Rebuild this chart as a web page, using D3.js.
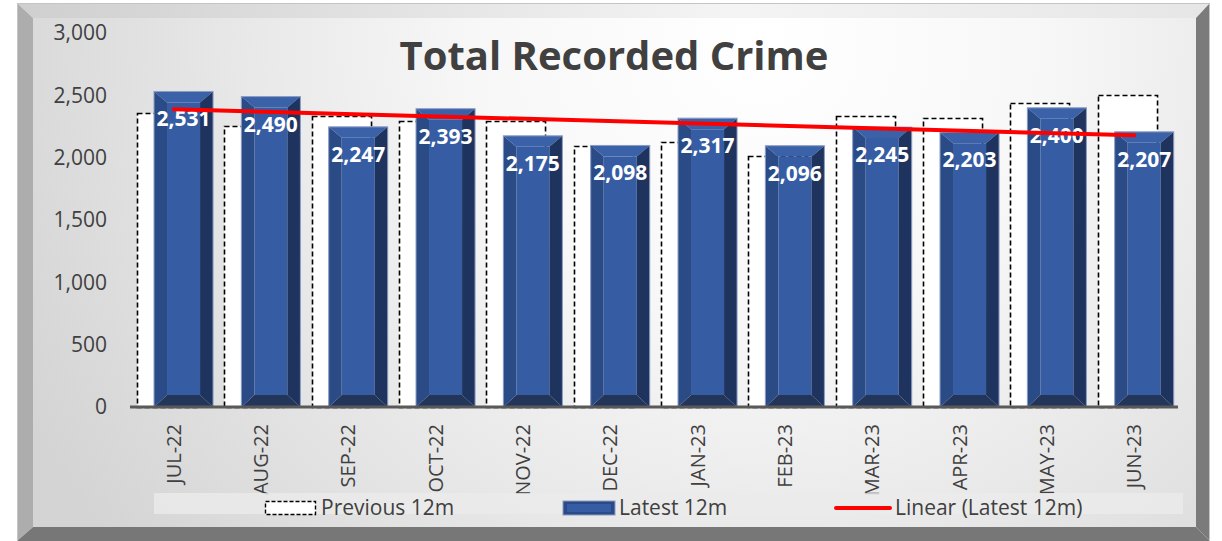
<!DOCTYPE html>
<html>
<head>
<meta charset="utf-8">
<script src="https://cdn.jsdelivr.net/npm/d3@7/dist/d3.min.js"></script>
<style>
  body { margin: 0; background: #ffffff; }
  svg { display: block; }
  text { font-family: "Open Sans", sans-serif; }
</style>
</head>
<body>
<div id="chart"></div>
<script>
// chart data
var months = ["JUL-22", "AUG-22", "SEP-22", "OCT-22", "NOV-22", "DEC-22",
              "JAN-23", "FEB-23", "MAR-23", "APR-23", "MAY-23", "JUN-23"];
var previous12m = [2358, 2258, 2335, 2297, 2292, 2090, 2128, 2010, 2335, 2316, 2441, 2503];
var latest12m = [2531, 2490, 2247, 2393, 2175, 2098, 2317, 2096, 2245, 2203, 2400, 2207];
var yTicks = [0, 500, 1000, 1500, 2000, 2500, 3000];
var legendLabels = ["Previous 12m", "Latest 12m", "Linear (Latest 12m)"];
var chartTitle = "Total Recorded Crime";

// workspace
var svgWidth = 1222;
var svgHeight = 541;

var plot = { left: 130, right: 1178, top: 33, bottom: 407 };

var svg = d3.select("#chart")
  .append("svg")
  .attr("width", svgWidth)
  .attr("height", svgHeight);

var defs = svg.append("defs");

var bg = defs.append("radialGradient")
  .attr("id", "bgGrad")
  .attr("gradientUnits", "userSpaceOnUse")
  .attr("cx", 760).attr("cy", 40).attr("r", 820);
bg.append("stop").attr("offset", "0%").attr("stop-color", "#ffffff");
bg.append("stop").attr("offset", "35%").attr("stop-color", "#f7f7f7");
bg.append("stop").attr("offset", "100%").attr("stop-color", "#d4d4d4");

var topBevel = defs.append("linearGradient")
  .attr("id", "topGrad").attr("x1", "0").attr("x2", "1").attr("y1", "0").attr("y2", "0");
topBevel.append("stop").attr("offset", "0%").attr("stop-color", "#cfcfcf");
topBevel.append("stop").attr("offset", "60%").attr("stop-color", "#f4f4f4");
topBevel.append("stop").attr("offset", "100%").attr("stop-color", "#e6e6e6");

// frame with bevels
var fx0 = 17, fy0 = 3, fx1 = 1210, fy1 = 541;
var ix0 = 33, iy0 = 18, ix1 = 1196, iy1 = 527;

svg.append("rect")
  .attr("x", ix0).attr("y", iy0)
  .attr("width", ix1 - ix0).attr("height", iy1 - iy0)
  .attr("fill", "url(#bgGrad)");

function poly(points, fill) {
  svg.append("polygon")
    .attr("points", points.map(p => p.join(",")).join(" "))
    .attr("fill", fill);
}
poly([[fx0, fy0], [fx1, fy0], [ix1, iy0], [ix0, iy0]], "url(#topGrad)");
poly([[fx0, fy0], [ix0, iy0], [ix0, iy1], [fx0, fy1]], "#adadad");
poly([[fx1, fy0], [fx1, fy1], [ix1, iy1], [ix1, iy0]], "#7b7b7b");
poly([[fx0, fy1], [ix0, iy1], [ix1, iy1], [fx1, fy1]], "#777777");
svg.append("rect")
  .attr("x", fx0 + 0.5).attr("y", fy0 + 0.5)
  .attr("width", fx1 - fx0 - 1).attr("height", fy1 - fy0)
  .attr("fill", "none").attr("stroke", "#c4c4c4").attr("stroke-width", 1);

// scales
var x = d3.scaleBand()
  .domain(months)
  .range([plot.left, plot.right])
  .paddingInner(0)
  .paddingOuter(0);

var y = d3.scaleLinear()
  .domain([0, 3000])
  .range([plot.bottom, plot.top]);

var bw = x.bandwidth();
var barW = bw * 0.676;
var prevOff = bw * 0.08;
var latestOff = bw * 0.275;

// y axis
var yAxis = d3.axisLeft(y)
  .tickValues(yTicks)
  .tickSize(0)
  .tickPadding(0)
  .tickFormat(d3.format(","));

svg.append("g")
  .attr("transform", "translate(107,0)")
  .call(yAxis)
  .call(g => g.select(".domain").remove())
  .selectAll("text")
  .attr("font-size", "21px")
  .attr("fill", "#404040")
  .attr("font-family", "Open Sans, sans-serif");

// previous 12m bars (dashed outline)
svg.append("g").selectAll("rect")
  .data(previous12m)
  .enter()
  .append("rect")
  .attr("x", (d, i) => Math.round(x(months[i]) + prevOff) + 0.5)
  .attr("y", d => Math.round(y(d)) + 0.5)
  .attr("width", barW)
  .attr("height", d => y(0) - Math.round(y(d)))
  .attr("fill", "#ffffff")
  .attr("stroke", "#000000")
  .attr("stroke-width", 1.6)
  .attr("stroke-dasharray", "5,3");

// latest 12m bars with bevel
var latestGroup = svg.append("g");
latest12m.forEach(function(d, i) {
  var x0 = x(months[i]) + latestOff;
  var x1 = x0 + barW;
  var y0 = y(d);
  var y1 = y(0);
  var b = 13, bt = 11, bb = 12;
  var g = latestGroup.append("g");
  function face(points, fill) {
    g.append("polygon")
      .attr("points", points.map(p => p.join(",")).join(" "))
      .attr("fill", fill);
  }
  face([[x0 + b, y0 + bt], [x1 - b, y0 + bt], [x1 - b, y1 - bb], [x0 + b, y1 - bb]], "#365da3");
  face([[x0, y0], [x1, y0], [x1 - b, y0 + bt], [x0 + b, y0 + bt]], "#3b62a8");
  face([[x0, y0], [x0 + b, y0 + bt], [x0 + b, y1 - bb], [x0, y1]], "#2b4b87");
  face([[x1, y0], [x1, y1], [x1 - b, y1 - bb], [x1 - b, y0 + bt]], "#1e345f");
  face([[x0, y1], [x0 + b, y1 - bb], [x1 - b, y1 - bb], [x1, y1]], "#24355a");
  g.append("rect")
    .attr("x", x0).attr("y", y0)
    .attr("width", barW).attr("height", y1 - y0)
    .attr("fill", "none")
    .attr("stroke", "#8b9cc4")
    .attr("stroke-width", 1);
});

// x axis line
svg.append("line")
  .attr("x1", plot.left).attr("x2", plot.right)
  .attr("y1", y(0)).attr("y2", y(0))
  .attr("stroke", "#595959")
  .attr("stroke-width", 3);

// x axis labels
var xAxis = d3.axisBottom(x).tickSize(0).tickPadding(0);
svg.append("g")
  .attr("transform", `translate(0, ${y(0)})`)
  .call(xAxis)
  .call(g => g.select(".domain").remove())
  .selectAll("text")
  .attr("font-size", "20px")
  .attr("fill", "#404040")
  .attr("font-family", "Open Sans, sans-serif")
  .attr("text-anchor", "end")
  .attr("transform", "rotate(-90)")
  .attr("x", -17)
  .attr("y", 0)
  .attr("dy", "0.35em");

// data labels
svg.append("g").selectAll("text")
  .data(latest12m)
  .enter()
  .append("text")
  .attr("x", (d, i) => x(months[i]) + latestOff + barW / 2)
  .attr("y", d => y(d) + 35)
  .attr("text-anchor", "middle")
  .attr("font-size", "21px")
  .attr("font-weight", "bold")
  .attr("fill", "#ffffff")
  .text(d => d3.format(",")(d));

// linear trendline of latest 12m (drawn over labels like the original)
var n = latest12m.length;
var mx = d3.mean(latest12m, (d, i) => i);
var my = d3.mean(latest12m);
var slope = d3.sum(latest12m, (d, i) => (i - mx) * (d - my)) / d3.sum(latest12m, (d, i) => (i - mx) * (i - mx));
var intercept = my - slope * mx;
var trend = months.map((m, i) => [x(m) + bw / 2, y(intercept + slope * i)]);
var trendData = [trend[0], trend[n - 1]];

svg.append("path")
  .attr("d", d3.line()(trendData))
  .attr("stroke", "#ff0000")
  .attr("stroke-width", 4)
  .attr("stroke-linecap", "round")
  .attr("fill", "none");

// title
svg.append("text")
  .attr("x", 614)
  .attr("y", 70)
  .attr("text-anchor", "middle")
  .attr("font-size", "40px")
  .attr("font-weight", "bold")
  .attr("fill", "#404040")
  .text(chartTitle);

// legend
var legend = svg.append("g");
legend.append("rect")
  .attr("x", 154).attr("y", 493)
  .attr("width", 1029).attr("height", 21)
  .attr("fill", "#ebebeb")
  .attr("opacity", 0.8);

legend.append("rect")
  .attr("x", 265.5).attr("y", 501.5)
  .attr("width", 50).attr("height", 13)
  .attr("fill", "#ffffff")
  .attr("stroke", "#000000")
  .attr("stroke-width", 1.4)
  .attr("stroke-dasharray", "4,2");

legend.append("rect")
  .attr("x", 563).attr("y", 501)
  .attr("width", 52).attr("height", 14)
  .attr("fill", "#2b4b87")
  .attr("stroke", "#8b9cc4")
  .attr("stroke-width", 1);
legend.append("rect")
  .attr("x", 567).attr("y", 504)
  .attr("width", 44).attr("height", 8)
  .attr("fill", "#365da3");

legend.append("line")
  .attr("x1", 836).attr("x2", 890)
  .attr("y1", 508).attr("y2", 508)
  .attr("stroke", "#ff0000")
  .attr("stroke-width", 4)
  .attr("stroke-linecap", "round");

var legendX = [321, 619, 895];
legend.selectAll("text.leg")
  .data(legendLabels)
  .enter()
  .append("text")
  .attr("class", "leg")
  .attr("x", (d, i) => legendX[i])
  .attr("y", 515)
  .attr("font-size", "21px")
  .attr("fill", "#404040")
  .text(d => d);
</script>
</body>
</html>
